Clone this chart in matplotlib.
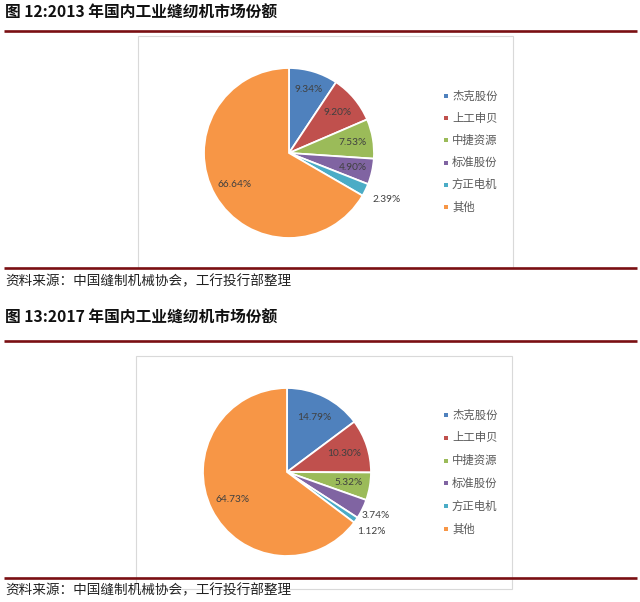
import matplotlib.pyplot as plt
import matplotlib.patches as mpatches
import numpy as np

plt.rcParams['font.family'] = ['Noto Sans CJK SC', 'DejaVu Sans']

# data
companies = ["杰克股份", "上工申贝", "中捷资源", "标准股份", "方正电机", "其他"]
share_2013 = [9.34, 9.20, 7.53, 4.90, 2.39, 66.64]
share_2017 = [14.79, 10.30, 5.32, 3.74, 1.12, 64.73]
titles = ["图 12:2013 年国内工业缝纫机市场份额", "图 13:2017 年国内工业缝纫机市场份额"]
source = "资料来源：中国缝制机械协会，工行投行部整理"

colors = ["#4F81BD", "#C0504D", "#9BBB59", "#8064A2", "#4BACC6", "#F79646"]
line_color = "#7A0F12"

W, H = 640, 602
fig = plt.figure(figsize=(W / 100, H / 100), dpi=100)
ax = fig.add_axes([0, 0, 1, 1])
ax.set_xlim(0, W)
ax.set_ylim(0, H)
ax.set_aspect("equal")
ax.axis("off")


def Y(y):
    # pixel row (from top) -> data y
    return H - y


# one block per chart: title, lines, box, pie, legend, source
blocks = [
    dict(values=share_2013, title=titles[0], title_y=13, top_line=31,
         box=(138, 36, 513, 268), bottom_line=268, src_y=281,
         center=(289, 153), radius=85, legend_y=96, legend_dy=22.2,
         label_dist=[0.78, 0.75, 0.76, 0.77, 1.27, 0.74]),
    dict(values=share_2017, title=titles[1], title_y=318, top_line=341,
         box=(136, 356, 512, 589), bottom_line=578, src_y=590,
         center=(287, 472), radius=84, legend_y=415, legend_dy=22.8,
         label_dist=[0.72, 0.72, 0.74, 1.18, 1.23, 0.73]),
]

for b in blocks:
    ax.text(5, Y(b["title_y"]), b["title"], fontsize=11.3, fontweight="bold",
            color="#111111", va="center", ha="left")
    ax.plot([4, 637], [Y(b["top_line"])] * 2, color=line_color, lw=1.9,
            solid_capstyle="butt")

    x0, y0, x1, y1 = b["box"]
    ax.add_patch(mpatches.Rectangle((x0, Y(y1)), x1 - x0, y1 - y0,
                                    facecolor="white", edgecolor="#D9D9D9", lw=0.8))

    cx, cy = b["center"]
    wedges, _ = ax.pie(b["values"], colors=colors, startangle=90, counterclock=False,
                       center=(cx, Y(cy)), radius=b["radius"], frame=True,
                       wedgeprops=dict(edgecolor="white", linewidth=1.3))
    for w, v, d in zip(wedges, b["values"], b["label_dist"]):
        ang = np.deg2rad((w.theta1 + w.theta2) / 2)
        lx = cx + d * b["radius"] * np.cos(ang)
        ly = Y(cy) + d * b["radius"] * np.sin(ang)
        ax.text(lx, ly, f"{v:.2f}%", fontsize=7.3, family="Lato", color="#404040",
                ha="center", va="center")

    for i, name in enumerate(companies):
        yy = Y(b["legend_y"] + i * b["legend_dy"])
        ax.add_patch(mpatches.Rectangle((444, yy - 2), 4, 4, color=colors[i], lw=0))
        ax.text(452, yy, name, fontsize=8.2, color="#595959", va="center", ha="left")

    ax.plot([4, 637], [Y(b["bottom_line"])] * 2, color=line_color, lw=1.9,
            solid_capstyle="butt")
    ax.text(5, Y(b["src_y"]), source, fontsize=9.8, color="#222222",
            va="center", ha="left")

ax.set_xlim(0, W)
ax.set_ylim(0, H)
ax.axis("off")

fig.savefig("out.png", dpi=100)
